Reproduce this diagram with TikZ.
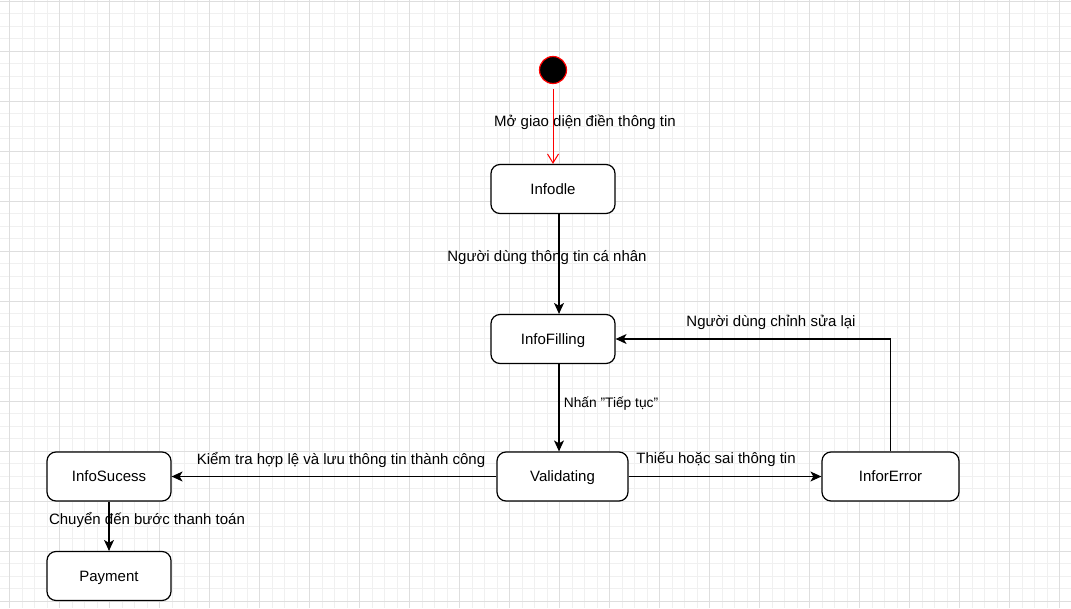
\documentclass[tikz,border=0pt]{standalone}
\usepackage{fontspec}
\setmainfont{Liberation Sans}
\usetikzlibrary{arrows.meta}
\begin{document}
\begin{tikzpicture}[x=1pt,y=-1pt,
  statebox/.style={draw=black, line width=1.2pt, rounded corners=9pt, fill=white,
    minimum width=124pt, minimum height=49pt, inner sep=0pt, font=\fontsize{15}{18}\selectfont,
    text depth=0pt, text height=10.5pt},
  lbl/.style={inner sep=0pt, font=\fontsize{15}{18}\selectfont, yshift=-1.5pt},
  arr/.style={draw=black, line width=1.1pt, -{Stealth[length=11pt,width=10pt,inset=3pt]}},
]
\useasboundingbox (0,0) rectangle (1071,608);
\fill[white] (0,0) rectangle (1071,608);
% grid
\foreach \i in {0,...,86} {\draw[black!6, line width=0.7pt] ({9.5+12.5*\i},0) -- ({9.5+12.5*\i},608);}
\foreach \i in {0,...,49} {\draw[black!6, line width=0.7pt] (0,{1+12.5*\i}) -- (1071,{1+12.5*\i});}
\foreach \i in {0,...,21} {\draw[black!13, line width=0.7pt] ({9.5+50*\i},0) -- ({9.5+50*\i},608);}
\foreach \i in {0,...,12} {\draw[black!13, line width=0.7pt] (0,{1+50*\i}) -- (1071,{1+50*\i});}

% nodes
\node[circle, fill=black, draw=red, line width=1.2pt, minimum size=27pt, inner sep=0pt] (init) at (553,70) {};
\node[statebox] (infodle) at (553,189) {Infodle};
\node[statebox] (infofilling) at (553,339) {InfoFilling};
\node[statebox, minimum width=131pt] (validating) at (562.5,476.5) {Validating};
\node[statebox] (infosucess) at (109,476.5) {InfoSucess};
\node[statebox] (payment) at (109,576) {Payment};
\node[statebox, minimum width=137pt] (infor) at (890.5,476.5) {InforError};

% connectors
\draw[draw=red, line width=1pt, shorten <=5pt, -{Straight Barb[length=9pt,width=11pt]}] (init) -- (infodle);
\draw[arr] ([xshift=6pt]infodle.south) -- ([xshift=6pt]infofilling.north);
\draw[arr] ([xshift=6pt]infofilling.south) -- ([xshift=6pt]infofilling.south |- validating.north);
\draw[arr] (validating) -- (infosucess);
\draw[arr] (validating) -- (infor);
\draw[arr] (infor.north) |- (infofilling.east);
\draw[arr] (infosucess) -- (payment);

% labels
\node[lbl] (l1) at (585,121) {Mở giao diện điền thông tin};
\node[lbl] (l2) at (547,256) {Người dùng thông tin cá nhân};
\node[lbl, font=\fontsize{13.75}{16}\selectfont] (l3) at (611,402) {Nhấn "Tiếp tục"};
\node[lbl] (l4) at (771,321) {Người dùng chỉnh sửa lại};
\node[lbl] (l5) at (341,458) {Kiểm tra hợp lệ và lưu thông tin thành công};
\node[lbl] (l6) at (716,458) {Thiếu hoặc sai thông tin};
\node[lbl] (l7) at (147,518) {Chuyển đến bước thanh toán};
\end{tikzpicture}
\end{document}
